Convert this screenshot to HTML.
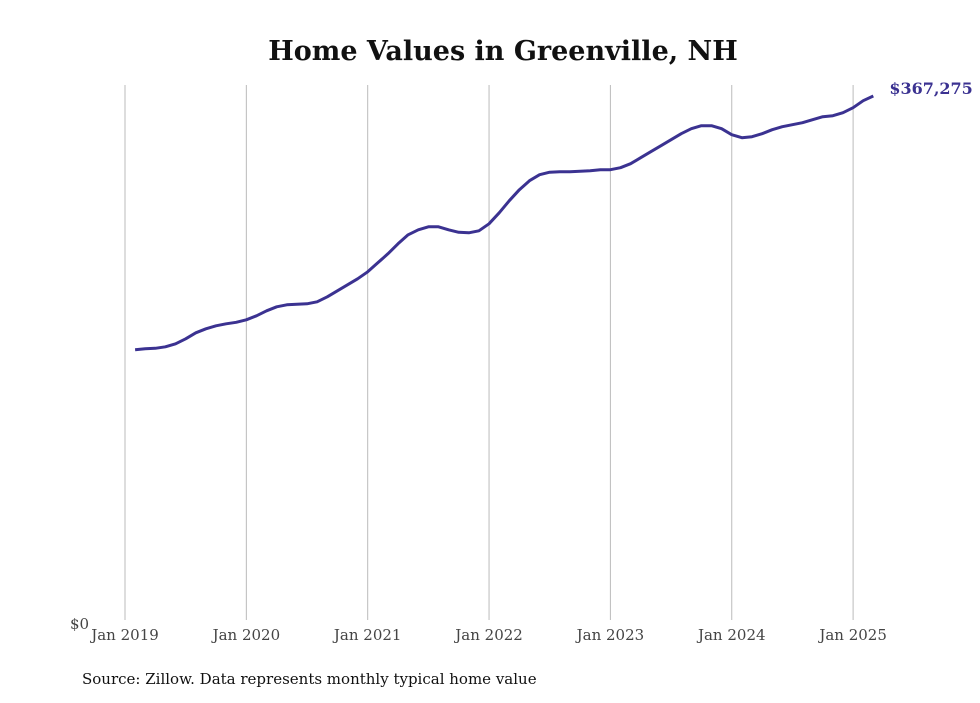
<!DOCTYPE html>
<html><head><meta charset="utf-8"><style>
body{margin:0;background:#fff;width:980px;height:699px;overflow:hidden;font-family:"DejaVu Serif","Liberation Serif",serif}
</style></head><body>
<svg width="980" height="699">
<text x="503" y="60" text-anchor="middle" font-size="27" font-weight="bold" fill="#111">Home Values in Greenville, NH</text>
<g id="grid"></g>
<g id="xlabels"></g>
<text x="70" y="629" font-size="15" fill="#444">$0</text>
<path id="line" fill="none" stroke="#3b3291" stroke-width="3" stroke-linejoin="round"/>
<text id="endlabel" font-size="16" font-weight="bold" fill="#3b3291"></text>
<text x="82" y="684" font-size="15" fill="#111">Source: Zillow. Data represents monthly typical home value</text>
</svg>
<script>
const years = ["Jan 2019","Jan 2020","Jan 2021","Jan 2022","Jan 2023","Jan 2024","Jan 2025"];
const startMonth = 1; // Feb 2019
const values = [189700,190400,190750,191800,193900,197400,201600,204400,206500,207900,208950,210700,213500,217000,219800,221200,221550,221900,223300,226800,231000,235200,239400,244300,250600,256900,263900,270200,273700,275800,275800,273700,271950,271600,273000,277900,285600,294000,301700,308000,312200,313950,314300,314300,314650,315000,315700,315700,317100,319900,324100,328300,332500,336700,340900,344400,346500,346500,344400,340200,338100,338800,340900,343700,345800,347200,348600,350700,352800,353500,355600,359100,364000,367275];
const ns="http://www.w3.org/2000/svg";
const x0=125, pxPerMonth=121.35/12, yBase=621, yTop=96, vTop=367275;
const xs=m=>x0+m*pxPerMonth;
const ys=v=>yBase-(yBase-yTop)*v/vTop;
const grid=document.getElementById('grid'), xl=document.getElementById('xlabels');
years.forEach((lab,i)=>{
  const x=xs(i*12);
  const l=document.createElementNS(ns,'line');
  l.setAttribute('x1',x);l.setAttribute('x2',x);l.setAttribute('y1',85);l.setAttribute('y2',620);
  l.setAttribute('stroke','#bbb');l.setAttribute('stroke-width','1');
  
  
  grid.appendChild(l);
  const t=document.createElementNS(ns,'text');
  t.setAttribute('x',x);t.setAttribute('y',640);t.setAttribute('text-anchor','middle');
  t.setAttribute('font-size','15');t.setAttribute('fill','#444');
  t.textContent=lab;
  
  
  xl.appendChild(t);
});
let d='';
values.forEach((v,i)=>{d+=(i?'L':'M')+xs(startMonth+i).toFixed(1)+','+ys(v).toFixed(1);});
document.getElementById('line').setAttribute('d',d);
const last=values[values.length-1];
const el=document.getElementById('endlabel');
el.setAttribute('x',xs(startMonth+values.length-1)+16);
el.setAttribute('y',ys(last)-2);
el.textContent='$'+last.toLocaleString('en-US');
</script>
</body></html>
